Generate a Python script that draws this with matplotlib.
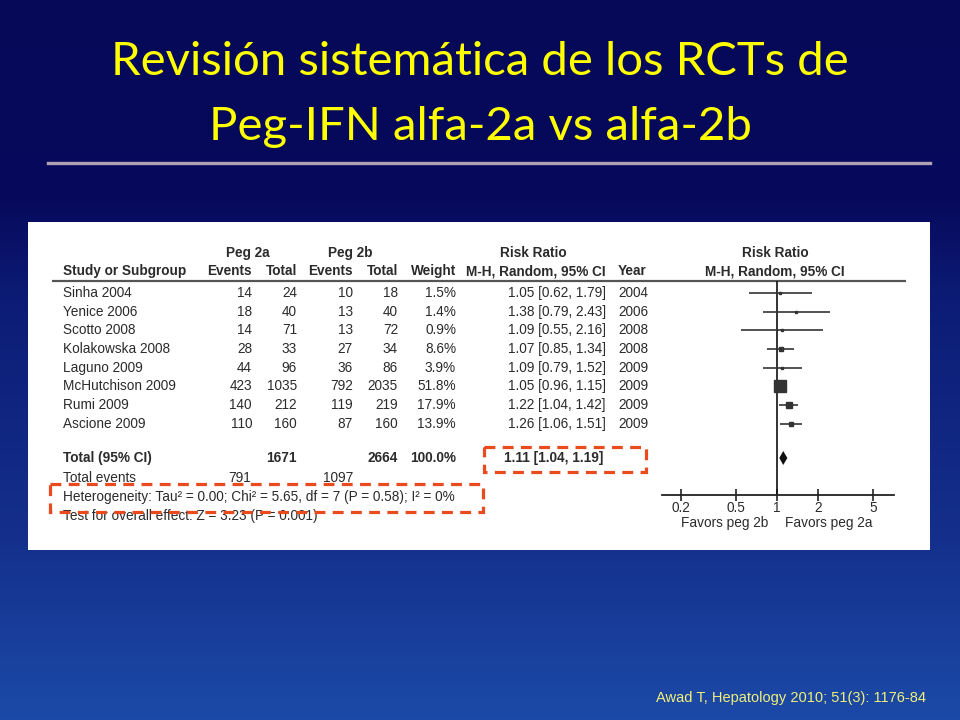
import numpy as np
import matplotlib
matplotlib.use("Agg")
import matplotlib.pyplot as plt
from matplotlib.patches import Rectangle
from matplotlib.lines import Line2D

# ---------------- data ----------------
studies = ["Sinha 2004", "Yenice 2006", "Scotto 2008", "Kolakowska 2008",
           "Laguno 2009", "McHutchison 2009", "Rumi 2009", "Ascione 2009"]
events_2a = [14, 18, 14, 28, 44, 423, 140, 110]
total_2a = [24, 40, 71, 33, 96, 1035, 212, 160]
events_2b = [10, 13, 13, 27, 36, 792, 119, 87]
total_2b = [18, 40, 72, 34, 86, 2035, 219, 160]
weights = [1.5, 1.4, 0.9, 8.6, 3.9, 51.8, 17.9, 13.9]
rr = [1.05, 1.38, 1.09, 1.07, 1.09, 1.05, 1.22, 1.26]
rr_lo = [0.62, 0.79, 0.55, 0.85, 0.79, 0.96, 1.04, 1.06]
rr_hi = [1.79, 2.43, 2.16, 1.34, 1.52, 1.15, 1.42, 1.51]
years = [2004, 2006, 2008, 2008, 2009, 2009, 2009, 2009]

pooled_total_2a = 1671
pooled_total_2b = 2664
pooled_events_2a = 791
pooled_events_2b = 1097
pooled_weight = 100.0
pooled_rr, pooled_lo, pooled_hi = 1.11, 1.04, 1.19
heterogeneity = "Heterogeneity: Tau\u00b2 = 0.00; Chi\u00b2 = 5.65, df = 7 (P = 0.58); I\u00b2 = 0%"
overall = "Test for overall effect: Z = 3.23 (P = 0.001)"

xticks = [0.2, 0.5, 1, 2, 5]
xtick_labels = ["0.2", "0.5", "1", "2", "5"]

title_lines = ["Revisi\u00f3n sistem\u00e1tica de los RCTs de", "Peg-IFN alfa-2a vs alfa-2b"]
citation = "Awad T, Hepatology 2010; 51(3): 1176-84"

# ---------------- figure ----------------
W, H = 960, 720
fig = plt.figure(figsize=(W / 100, H / 100), dpi=100)

def fx(px):
    return px / W

def fy(py):
    return 1 - py / H

# background gradient
bg = fig.add_axes([0, 0, 1, 1])
ys = np.arange(H)
stops_y = [0, 200, 300, 540, 720]
stops_c = np.array([[6, 8, 88], [7, 10, 92], [12, 28, 118], [20, 48, 140], [28, 74, 168]]) / 255
grad = np.stack([np.interp(ys, stops_y, stops_c[:, k]) for k in range(3)], axis=1)
bg.imshow(grad[:, None, :], aspect="auto", extent=[0, W, H, 0])
bg.set_xlim(0, W)
bg.set_ylim(H, 0)
bg.axis("off")

# title
fig.text(0.5, fy(75), title_lines[0], ha="center", va="baseline", color="#ffff00",
         fontsize=34, family="Lato")
fig.text(0.5, fy(140), title_lines[1], ha="center", va="baseline", color="#ffff00",
         fontsize=34, family="Lato")
fig.add_artist(Line2D([fx(48), fx(930)], [fy(163), fy(163)], color="#b0a2b4", lw=2.4,
                      transform=fig.transFigure))

# citation
fig.text(fx(926), fy(698), citation, ha="right", va="center", color="#f0f07a",
         fontsize=10.5, family="Liberation Sans")

# ---------------- table panel ----------------
PL, PR, PT, PB = 28, 930, 222, 550
tab = fig.add_axes([fx(PL), fy(PB), fx(PR - PL), (PB - PT) / H])
tab.set_xlim(PL, PR)
tab.set_ylim(PB, PT)
tab.set_facecolor("white")
tab.set_xticks([])
tab.set_yticks([])
for s in tab.spines.values():
    s.set_visible(False)

txt = "#2b2b2b"
fs = 9.8
fam = "Liberation Sans"

def T(x, y, s, ha="left", bold=False, **kw):
    tab.text(x, y, s, ha=ha, va="center", fontsize=fs, family=fam, color=txt,
             fontweight="bold" if bold else "normal", **kw)

# headers
T(248, 253, "Peg 2a", ha="center", bold=True)
T(350, 253, "Peg 2b", ha="center", bold=True)
T(533, 253, "Risk Ratio", ha="center", bold=True)
T(775, 253, "Risk Ratio", ha="center", bold=True)
hy = 271
T(63, hy, "Study or Subgroup", bold=True)
T(252, hy, "Events", ha="right", bold=True)
T(297, hy, "Total", ha="right", bold=True)
T(353, hy, "Events", ha="right", bold=True)
T(398, hy, "Total", ha="right", bold=True)
T(456, hy, "Weight", ha="right", bold=True)
T(606, hy, "M-H, Random, 95% CI", ha="right", bold=True)
T(618, hy, "Year", bold=True)
T(775, hy, "M-H, Random, 95% CI", ha="center", bold=True)
tab.hlines(281, 52, 906, color="#555555", lw=1.6)

row_y = [293 + 18.65 * i for i in range(len(studies))]
for i, y in enumerate(row_y):
    T(63, y, studies[i])
    T(252, y, str(events_2a[i]), ha="right")
    T(297, y, str(total_2a[i]), ha="right")
    T(353, y, str(events_2b[i]), ha="right")
    T(398, y, str(total_2b[i]), ha="right")
    T(456, y, f"{weights[i]:.1f}%", ha="right")
    T(606, y, f"{rr[i]:.2f} [{rr_lo[i]:.2f}, {rr_hi[i]:.2f}]", ha="right")
    T(618, y, str(years[i]))

ty = 458
T(63, ty, "Total (95% CI)", bold=True)
T(297, ty, str(pooled_total_2a), ha="right", bold=True)
T(398, ty, str(pooled_total_2b), ha="right", bold=True)
T(456, ty, f"{pooled_weight:.1f}%", ha="right", bold=True)
T(603, ty, f"{pooled_rr:.2f} [{pooled_lo:.2f}, {pooled_hi:.2f}]", ha="right", bold=True)
T(63, 478, "Total events")
T(251, 478, str(pooled_events_2a), ha="right")
T(353, 478, str(pooled_events_2b), ha="right")
T(63, 497, heterogeneity)
T(63, 516, overall)

red = "#ea4b1e"
for (x0, y0, x1, y1) in [(484, 447, 646, 472), (50, 484, 483, 512)]:
    tab.add_patch(Rectangle((x0, y0), x1 - x0, y1 - y0, fill=False, ec=red, lw=2.3,
                            ls=(0, (3.4, 2.3)), zorder=5))

# ---------------- forest plot ----------------
FL, FR = 640, 914
fa = fig.add_axes([fx(FL), fy(PB), fx(FR - FL), (PB - PT) / H])
fa.set_facecolor("none")
fa.set_xscale("log")
fa.set_xlim(0.1, 10)
fa.set_ylim(PB, PT)
for k in ["top", "left", "right"]:
    fa.spines[k].set_visible(False)
axis_y = 495
fa.spines["bottom"].set_position(("data", axis_y))
fa.spines["bottom"].set_bounds(0.145, 7.2)
fa.spines["bottom"].set_linewidth(1.3)
fa.spines["bottom"].set_color("#222222")
fa.set_xticks(xticks)
fa.set_xticklabels(xtick_labels)
fa.xaxis.set_minor_locator(matplotlib.ticker.NullLocator())
fa.tick_params(axis="x", direction="inout", length=9, width=1.2, color="#222222",
               labelsize=fs, pad=0, labelcolor=txt)
for lab in fa.get_xticklabels():
    lab.set_family(fam)
fa.set_yticks([])

fa.vlines(1, 281, axis_y, color="#111111", lw=1.2)
fa.hlines(row_y, rr_lo, rr_hi, color="#333333", lw=1.2)
for i, y in enumerate(row_y):
    side_px = max(2.0, 11.5 * (weights[i] / max(weights)) ** 0.65)
    fa.plot(rr[i], y, marker="s", ms=side_px * 0.72, color="#333333", mec="#333333", lw=0)

dh = 7
fa.fill([pooled_lo, pooled_rr, pooled_hi, pooled_rr], [ty, ty - dh, ty, ty + dh],
        color="#111111", lw=0)

fa.annotate("Favors peg 2b", xy=(1, 523), xytext=(-6, 0), textcoords="offset points",
            ha="right", va="center", fontsize=fs, family=fam, color=txt)
fa.annotate("Favors peg 2a", xy=(1, 523), xytext=(6, 0), textcoords="offset points",
            ha="left", va="center", fontsize=fs, family=fam, color=txt)

fig.savefig("out.png", dpi=100)
